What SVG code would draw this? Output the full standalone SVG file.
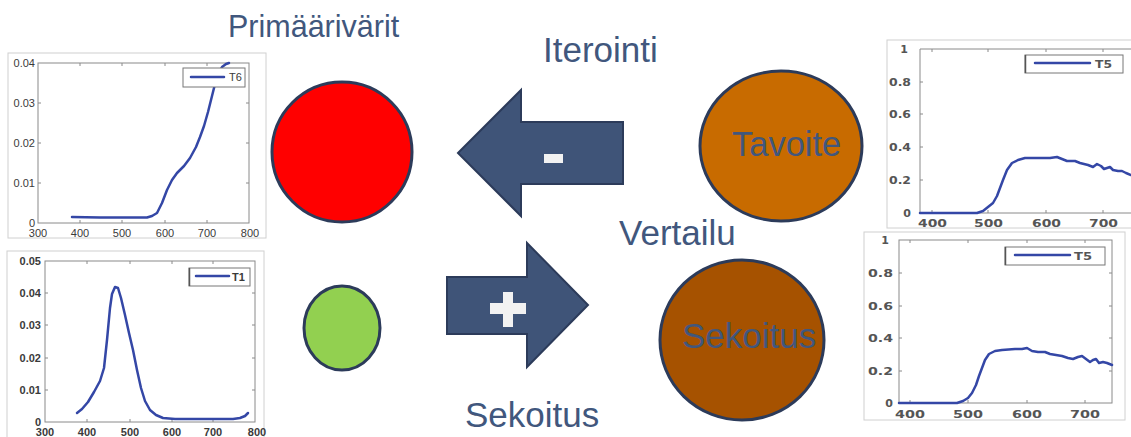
<svg xmlns="http://www.w3.org/2000/svg" width="1131" height="437" viewBox="0 0 1131 437">
<style>
.frame{fill:#fff;stroke:#d0d0d0;stroke-width:1}
.axes{fill:none;stroke:#8a8a8a;stroke-width:1}
.tick{stroke:#8a8a8a;stroke-width:1}
.curve{fill:none;stroke:#3447a6;stroke-width:2.5;stroke-linejoin:round;stroke-linecap:round}
.leg{fill:#fff;stroke:#777;stroke-width:1}
.tl{font-family:"Liberation Sans",Arial,sans-serif;font-size:11px;fill:#3a3a3a}
.tr{font-family:"DejaVu Sans",sans-serif;font-size:11px;font-weight:bold;fill:#555}
.lab{font-family:"Liberation Sans",Arial,sans-serif;fill:#41577d}
.node{stroke:#2c3b5a;stroke-width:3}
.arrow{fill:#3f5478;stroke:#2c3b5a;stroke-width:2;stroke-linejoin:miter}
</style>

<!-- Chart 1: T6 -->
<g id="chart-t6">
<rect class="frame" x="8" y="53" width="258" height="185"/>
<rect class="axes" x="38" y="63" width="211" height="160"/>
<path class="tick" d="M80,223v-3M122,223v-3M165,223v-3M207,223v-3M80,63v3M122,63v3M165,63v3M207,63v3M38,103h3M38,143h3M38,183h3M249,103h-3M249,143h-3M249,183h-3"/>
<g class="tl" text-anchor="end">
<text x="35" y="67">0.04</text><text x="35" y="107">0.03</text><text x="35" y="147">0.02</text><text x="35" y="187">0.01</text><text x="35" y="227">0</text>
</g>
<g class="tl" text-anchor="middle">
<text x="38" y="237">300</text><text x="80" y="237">400</text><text x="122" y="237">500</text><text x="165" y="237">600</text><text x="207" y="237">700</text><text x="250" y="237">800</text>
</g>
<path class="curve" d="M72,217 L100,217.5 L147,217.5 L152,216 L157,213 L162,203 L167,190 L172,180 L177,173 L184,166 L190,158 L196,147 L200,137 L204,126 L208,112 L212,96 L215,84 L218,74 L222,67 L226,64 L229,63"/>
<rect class="leg" x="183" y="68" width="62" height="19"/>
<line class="curve" x1="191" y1="77" x2="224" y2="77"/>
<text class="tl" x="229" y="81" font-size="10">T6</text>
</g>

<!-- Chart 2: T1 -->
<g id="chart-t1">
<rect class="frame" x="7" y="251" width="257" height="190"/>
<rect class="axes" x="45" y="261" width="210" height="161"/>
<path class="tick" d="M87,422v-3M130,422v-3M172,422v-3M213,422v-3M87,261v3M130,261v3M172,261v3M213,261v3M45,293h3M45,325h3M45,358h3M45,390h3M255,293h-3M255,325h-3M255,358h-3M255,390h-3"/>
<g class="tl" text-anchor="end" font-weight="bold">
<text x="41" y="265">0.05</text><text x="41" y="297">0.04</text><text x="41" y="329">0.03</text><text x="41" y="362">0.02</text><text x="41" y="394">0.01</text><text x="41" y="426">0</text>
</g>
<g class="tl" text-anchor="middle" font-weight="bold">
<text x="45" y="436">300</text><text x="87" y="436">400</text><text x="130" y="436">500</text><text x="172" y="436">600</text><text x="213" y="436">700</text><text x="257" y="436">800</text>
</g>
<path class="curve" d="M77,413 L82,409 L88,402 L94,392 L100,381 L104,368 L107,340 L110,308 L112,294 L115,287 L118,288 L121,298 L125,315 L129,333 L133,350 L137,370 L141,388 L145,401 L150,410 L156,415 L163,418 L175,419 L200,419 L233,419 L240,418 L245,416 L248,413"/>
<rect class="leg" x="189" y="268" width="61" height="18"/>
<line x1="189.5" y1="268" x2="189.5" y2="286" stroke="#555" stroke-width="1.5"/>
<line class="curve" x1="196" y1="276" x2="229" y2="276"/>
<text class="tl" x="232" y="281" font-size="10" font-weight="bold">T1</text>
</g>

<!-- Chart 3: T5 top -->
<g id="chart-t5-top">
<rect class="frame" x="887" y="40" width="250" height="188"/>
<path class="axes" d="M1135,49 H920 V213 H1135"/>
<path class="tick" d="M932,213v-3M988,213v-3M1046,213v-3M1103,213v-3M932,49v3M988,49v3M1046,49v3M1103,49v3M920,82h3M920,114h3M920,147h3M920,180h3"/>
<g class="tr" text-anchor="end">
<text x="908" y="53">1</text>
<text x="911" y="86" textLength="22" lengthAdjust="spacingAndGlyphs">0.8</text>
<text x="911" y="118" textLength="22" lengthAdjust="spacingAndGlyphs">0.6</text>
<text x="911" y="151" textLength="22" lengthAdjust="spacingAndGlyphs">0.4</text>
<text x="911" y="184" textLength="22" lengthAdjust="spacingAndGlyphs">0.2</text>
<text x="911" y="217">0</text>
</g>
<g class="tr">
<text x="918" y="227" textLength="29" lengthAdjust="spacingAndGlyphs">400</text>
<text x="974" y="227" textLength="29" lengthAdjust="spacingAndGlyphs">500</text>
<text x="1032" y="227" textLength="29" lengthAdjust="spacingAndGlyphs">600</text>
<text x="1089" y="227" textLength="29" lengthAdjust="spacingAndGlyphs">700</text>
</g>
<path class="curve" d="M920,213 L977,213 L983,211 L988,207 L993,203 L997,196 L1000,188 L1003,180 L1007,170 L1012,163 L1018,160 L1025,158 L1040,158 L1050,158 L1057,157 L1062,159 L1067,161 L1075,161 L1080,163 L1088,165 L1093,167 L1097,164 L1101,166 L1104,169 L1107,168 L1110,167 L1113,170 L1118,171 L1122,171 L1126,173 L1131,175"/>
<rect class="leg" x="1025" y="55" width="98" height="18"/>
<line x1="1025.5" y1="55" x2="1025.5" y2="73" stroke="#555" stroke-width="1.5"/>
<line class="curve" x1="1035" y1="63" x2="1090" y2="63"/>
<text class="tr" x="1095" y="68" textLength="17" lengthAdjust="spacingAndGlyphs">T5</text>
</g>

<!-- Chart 4: T5 bottom -->
<g id="chart-t5-bottom">
<rect class="frame" x="864" y="232" width="261" height="188"/>
<rect class="axes" x="899" y="240" width="213" height="163"/>
<path class="tick" d="M910,403v-3M968,403v-3M1027,403v-3M1085,403v-3M910,240v3M968,240v3M1027,240v3M1085,240v3M899,273h3M899,306h3M899,338h3M899,371h3M1112,273h-3M1112,306h-3M1112,338h-3M1112,371h-3"/>
<g class="tr" text-anchor="end">
<text x="889" y="244">1</text>
<text x="893" y="277" textLength="25" lengthAdjust="spacingAndGlyphs">0.8</text>
<text x="893" y="310" textLength="25" lengthAdjust="spacingAndGlyphs">0.6</text>
<text x="893" y="342" textLength="25" lengthAdjust="spacingAndGlyphs">0.4</text>
<text x="893" y="375" textLength="25" lengthAdjust="spacingAndGlyphs">0.2</text>
<text x="893" y="407">0</text>
</g>
<g class="tr">
<text x="895" y="418" textLength="30" lengthAdjust="spacingAndGlyphs">400</text>
<text x="953" y="418" textLength="30" lengthAdjust="spacingAndGlyphs">500</text>
<text x="1012" y="418" textLength="30" lengthAdjust="spacingAndGlyphs">600</text>
<text x="1070" y="418" textLength="30" lengthAdjust="spacingAndGlyphs">700</text>
</g>
<path class="curve" d="M899,403 L957,403 L963,401 L968,398 L972,393 L976,385 L979,376 L982,368 L985,360 L989,354 L995,351 L1002,350 L1015,349 L1022,349 L1027,348 L1032,351 L1038,352 L1045,352 L1050,354 L1056,355 L1062,356 L1068,358 L1073,359 L1078,357 L1082,356 L1086,359 L1090,362 L1093,360 L1096,359 L1099,363 L1103,362 L1107,363 L1112,365"/>
<rect class="leg" x="1005" y="247" width="100" height="18"/>
<line x1="1005.5" y1="247" x2="1005.5" y2="265" stroke="#555" stroke-width="1.5"/>
<line class="curve" x1="1015" y1="255" x2="1070" y2="255"/>
<text class="tr" x="1074" y="260" textLength="18" lengthAdjust="spacingAndGlyphs">T5</text>
</g>

<!-- Labels -->
<text class="lab" x="228" y="37" font-size="30.5px">Primäärivärit</text>
<text class="lab" x="543" y="62" font-size="35px">Iterointi</text>
<text class="lab" x="619" y="245" font-size="35px">Vertailu</text>
<text class="lab" x="465" y="427" font-size="35px">Sekoitus</text>

<!-- Nodes -->
<g id="red">
<circle class="node" cx="342" cy="152" r="70" fill="#ff0000"/>
</g>
<g id="green">
<ellipse class="node" cx="342" cy="328" rx="38" ry="42" fill="#92d050"/>
</g>
<g id="tavoite">
<ellipse class="node" cx="781" cy="146" rx="81" ry="75" fill="#c86b00"/>
<text class="lab" x="732" y="156" font-size="34.5px">Tavoite</text>
</g>
<g id="sekoitus">
<ellipse class="node" cx="742" cy="340" rx="82" ry="80" fill="#a65200"/>
<text class="lab" x="682" y="348" font-size="35px">Sekoitus</text>
</g>

<!-- Connectors -->
<g id="connectors">
<path class="arrow" d="M458,153 L521,90 L521,122 L623,122 L623,184 L521,184 L521,216 Z"/>
<rect x="544" y="154" width="19" height="9" fill="#f2f2f2"/>
<path class="arrow" d="M447,277 L527,277 L527,243 L588,305 L527,367 L527,334 L447,334 Z"/>
<path d="M490,303 H503 V292 H513 V303 H526 V314 H513 V327 H503 V314 H490 Z" fill="#f2f2f2"/>
</g>
</svg>
